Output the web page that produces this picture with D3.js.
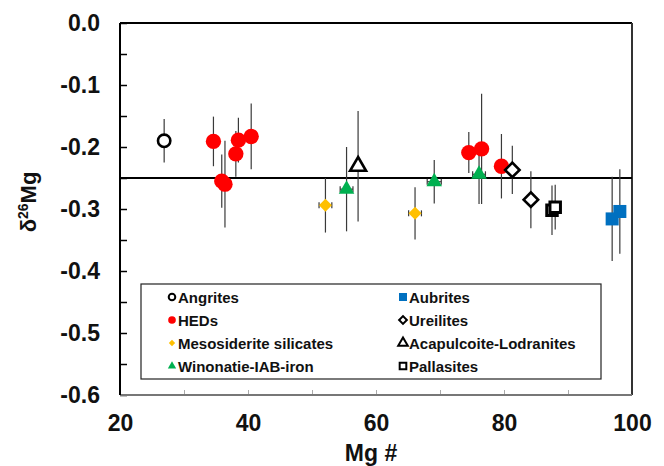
<!DOCTYPE html>
<html>
<head>
<meta charset="utf-8">
<script src="https://cdn.jsdelivr.net/npm/d3@7"></script>
<style>
  body { margin: 0; background: #fff; }
  svg { display: block; font-family: "Liberation Sans", Arial, sans-serif; font-weight: bold; }
</style>
</head>
<body>
<div id="chart"></div>
<script>
// ---- data ----
var mgTicks = [20, 40, 60, 80, 100];
var d26Ticks = [0, -0.1, -0.2, -0.3, -0.4, -0.5, -0.6];
var refLine = -0.25;

var angritesMg = [26.9];
var angritesD26 = [-0.190];
var angritesErr = [0.035];

var hedMg = [34.6, 35.9, 36.4, 38.1, 38.5, 40.5, 74.5, 76.5, 79.6];
var hedD26 = [-0.191, -0.255, -0.260, -0.211, -0.189, -0.183, -0.209, -0.203, -0.231];
var hedErr = [0.040, 0.043, 0.070, 0.037, 0.036, 0.053, 0.033, 0.089, 0.052];

var mesoMg = [52.1, 66.1];
var mesoD26 = [-0.294, -0.307];
var mesoErr = [0.044, 0.042];
var mesoMgErr = [1.0, 1.0];

var winoMg = [55.4, 69.1, 76.1];
var winoD26 = [-0.268, -0.256, -0.244];
var winoErr = [0.068, 0.035, 0.048];
var winoMgErr = [1.0, 1.1, 1.0];

var aubritesMg = [96.9, 98.1];
var aubritesD26 = [-0.316, -0.304];
var aubritesErr = [0.068, 0.068];

var ureilitesMg = [81.3, 84.2];
var ureilitesD26 = [-0.237, -0.285];
var ureilitesErr = [0.039, 0.046];

var acapMg = [57.2];
var acapD26 = [-0.231];
var acapErr = [0.089];

var pallasitesMg = [87.5, 88.0];
var pallasitesD26 = [-0.302, -0.297];
var pallasitesErr = [0.040, 0.036];

var seriesNames = ["Angrites", "HEDs", "Mesosiderite silicates", "Winonatie-IAB-iron",
                   "Aubrites", "Ureilites", "Acapulcoite-Lodranites", "Pallasites"];

// ---- table built from the arrays ----
function pts(mg, d, e, xe) {
  return mg.map(function (m, i) {
    return { mg: m, d26: d[i], err: e[i], mgErr: xe ? xe[i] : 0 };
  });
}
var series = [
  { name: seriesNames[0], pts: pts(angritesMg, angritesD26, angritesErr), shape: "circle", fill: "#fff", stroke: "#000", sw: 2.6, size: 120, lsize: 34 },
  { name: seriesNames[1], pts: pts(hedMg, hedD26, hedErr), shape: "circle", fill: "#ff0000", stroke: "none", sw: 0, size: 185, lsize: 46 },
  { name: seriesNames[2], pts: pts(mesoMg, mesoD26, mesoErr, mesoMgErr), shape: "diamond", fill: "#ffc000", stroke: "none", sw: 0, size: 85, lsize: 20 },
  { name: seriesNames[3], pts: pts(winoMg, winoD26, winoErr, winoMgErr), shape: "triangle", fill: "#00b050", stroke: "none", sw: 0, size: 105, lsize: 30 },
  { name: seriesNames[4], pts: pts(aubritesMg, aubritesD26, aubritesErr), shape: "square", fill: "#0070c0", stroke: "none", sw: 0, size: 170, lsize: 64 },
  { name: seriesNames[5], pts: pts(ureilitesMg, ureilitesD26, ureilitesErr), shape: "diamond", fill: "#fff", stroke: "#000", sw: 2.6, size: 105, lsize: 30 },
  { name: seriesNames[6], pts: pts(acapMg, acapD26, acapErr), shape: "triangle", fill: "#fff", stroke: "#000", sw: 2.6, size: 110, lsize: 40 },
  { name: seriesNames[7], pts: pts(pallasitesMg, pallasitesD26, pallasitesErr), shape: "square", fill: "#fff", stroke: "#000", sw: 3, size: 110, lsize: 44 }
];

var W = 664, H = 466;
var L = 120, R = 632, T = 23, B = 395;

var svg = d3.select("#chart").append("svg").attr("width", W).attr("height", H);

var x = d3.scaleLinear().domain([20, 100]).range([L, R]);
var y = d3.scaleLinear().domain([-0.6, 0]).range([B, T]);

var fmt = function (d) { return (Math.abs(d) < 1e-9 ? 0 : d).toFixed(1); };

// y minor/major ticks pointing inward
var yTickVals = d3.range(0, 13).map(function (i) { return -i * 0.05; });
svg.append("g")
  .attr("transform", "translate(" + L + ",0)")
  .call(d3.axisRight(y).tickValues(yTickVals).tickSize(7).tickFormat(""))
  .call(function (g) { g.select(".domain").remove(); g.selectAll("line").attr("stroke", "#000").attr("stroke-width", 1.5); });

// y labels
svg.append("g")
  .attr("transform", "translate(" + L + ",0)")
  .call(d3.axisLeft(y).tickValues(d26Ticks).tickSize(0).tickPadding(20).tickFormat(fmt))
  .call(function (g) {
    g.select(".domain").remove();
    g.selectAll("text").attr("font-size", 23).attr("font-weight", "bold").attr("fill", "#111")
      .attr("font-family", "'Liberation Sans', Arial, sans-serif");
  });

// x ticks inward
svg.append("g")
  .attr("transform", "translate(0," + B + ")")
  .call(d3.axisTop(x).tickValues(d3.range(20, 101, 10)).tickSize(5).tickFormat(""))
  .call(function (g) { g.select(".domain").remove(); g.selectAll("line").attr("stroke", "#aaa").attr("stroke-width", 1); });

// x labels
svg.append("g")
  .attr("transform", "translate(0," + B + ")")
  .call(d3.axisBottom(x).tickValues(mgTicks).tickSize(0).tickPadding(20).tickFormat(d3.format("d")))
  .call(function (g) {
    g.select(".domain").remove();
    g.selectAll("text").attr("font-size", 23).attr("font-weight", "bold").attr("fill", "#111")
      .attr("font-family", "'Liberation Sans', Arial, sans-serif");
  });

// frame
svg.append("line").attr("x1", L).attr("x2", R).attr("y1", T).attr("y2", T).attr("stroke", "#000").attr("stroke-width", 2);
svg.append("line").attr("x1", R).attr("x2", R).attr("y1", T).attr("y2", B).attr("stroke", "#333").attr("stroke-width", 2);
svg.append("line").attr("x1", L).attr("x2", R).attr("y1", B).attr("y2", B).attr("stroke", "#777").attr("stroke-width", 2);
svg.append("line").attr("x1", L).attr("x2", L).attr("y1", T).attr("y2", B).attr("stroke", "#000").attr("stroke-width", 2);

// reference line
svg.append("line")
  .attr("x1", x(20)).attr("x2", x(100))
  .attr("y1", y(refLine)).attr("y2", y(refLine))
  .attr("stroke", "#000").attr("stroke-width", 2.2);

// error bars
var eb = svg.append("g").attr("stroke", "#3a3a3a").attr("stroke-width", 1.2);
series.forEach(function (s) {
  s.pts.forEach(function (p) {
    eb.append("line")
      .attr("x1", x(p.mg)).attr("x2", x(p.mg))
      .attr("y1", y(p.d26 + p.err)).attr("y2", y(p.d26 - p.err));
    if (p.mgErr) {
      eb.append("line")
        .attr("x1", x(p.mg - p.mgErr)).attr("x2", x(p.mg + p.mgErr))
        .attr("y1", y(p.d26)).attr("y2", y(p.d26));
      [-1, 1].forEach(function (k) {
        eb.append("line")
          .attr("x1", x(p.mg + k * p.mgErr)).attr("x2", x(p.mg + k * p.mgErr))
          .attr("y1", y(p.d26) - 3).attr("y2", y(p.d26) + 3);
      });
    }
  });
});

function symPath(shape, size) {
  var t = { circle: d3.symbolCircle, diamond: d3.symbolSquare, triangle: d3.symbolTriangle, square: d3.symbolSquare }[shape];
  return d3.symbol().type(t).size(size)();
}
function rot(shape) { return shape === "diamond" ? " rotate(45)" : ""; }

// markers
series.forEach(function (s) {
  svg.append("g").selectAll("path")
    .data(s.pts)
    .enter().append("path")
    .attr("d", symPath(s.shape, s.size))
    .attr("transform", function (p) { return "translate(" + x(p.mg) + "," + y(p.d26) + ")" + rot(s.shape); })
    .attr("fill", s.fill)
    .attr("stroke", s.stroke)
    .attr("stroke-width", s.sw);
});

// legend
var lg = svg.append("g");
lg.append("rect").attr("x", 141).attr("y", 284).attr("width", 460).attr("height", 95)
  .attr("fill", "#fff").attr("stroke", "#222").attr("stroke-width", 1.2);
series.forEach(function (s, i) {
  var col = Math.floor(i / 4), row = i % 4;
  var mx = col === 0 ? 172 : 403;
  var my = 297 + row * 23;
  lg.append("path")
    .attr("d", symPath(s.shape, s.lsize))
    .attr("transform", "translate(" + mx + "," + my + ")" + rot(s.shape))
    .attr("fill", s.fill).attr("stroke", s.stroke).attr("stroke-width", s.sw ? 2 : 0);
  lg.append("text")
    .attr("x", mx + 6).attr("y", my + 5.5)
    .attr("font-size", 15).attr("fill", "#111")
    .text(s.name);
});

// axis titles
svg.append("text")
  .attr("x", 371).attr("y", 461)
  .attr("text-anchor", "middle").attr("font-size", 23).attr("fill", "#111")
  .text("Mg #");

var yt = svg.append("text")
  .attr("transform", "translate(36,202) rotate(-90)")
  .attr("text-anchor", "middle").attr("font-size", 22).attr("fill", "#111");
yt.append("tspan").text("δ");
yt.append("tspan").attr("font-size", 14).attr("dy", -8).text("26");
yt.append("tspan").attr("dy", 8).text("Mg");
</script>
</body>
</html>
